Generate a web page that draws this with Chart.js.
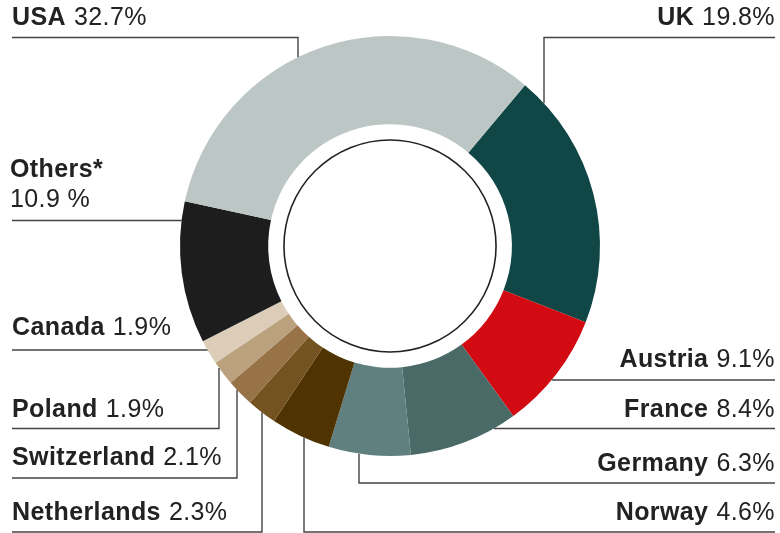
<!DOCTYPE html>
<html>
<head>
<meta charset="utf-8">
<script src="https://cdn.jsdelivr.net/npm/chart.js@4/dist/chart.umd.min.js"></script>
<style>
  html, body { margin: 0; padding: 0; background: #fff; }
  #wrap { width: 780px; height: 533px; position: relative; }
</style>
</head>
<body>
<div id="wrap"><canvas id="chartDonut"></canvas></div>
<script>
// data, clockwise starting at UK
var countries = ['UK', 'Austria', 'France', 'Germany', 'Norway', 'Netherlands', 'Switzerland', 'Poland', 'Canada', 'Others*', 'USA'];
var shares = [19.8, 9.1, 8.4, 6.3, 4.6, 2.3, 2.1, 1.9, 1.9, 10.9, 32.7];
var colors = ['#104645', '#d20a11', '#4a6a68', '#608080', '#4f3300', '#73531f', '#977347', '#bba17d', '#dccdb8', '#1d1d1d', '#bcc6c5'];

// label placement: text baseline, leader line (y = horizontal run, x = vertical drop to ring)
var labelLayout = [
  { side: 'right', base: 25,  lineY: 37.5,  dropX: 544 },  // UK
  { side: 'right', base: 367, lineY: 380 },                // Austria
  { side: 'right', base: 417, lineY: 428.5 },              // France
  { side: 'right', base: 471, lineY: 483,   dropX: 359 },  // Germany
  { side: 'right', base: 520, lineY: 532,   dropX: 304 },  // Norway
  { side: 'left',  base: 520, lineY: 532,   dropX: 262 },  // Netherlands
  { side: 'left',  base: 465, lineY: 478,   dropX: 237 },  // Switzerland
  { side: 'left',  base: 417, lineY: 428.5, dropX: 219 },  // Poland
  { side: 'left',  base: 335, lineY: 350 },                // Canada
  { side: 'left',  base: 177, lineY: 220.5, twoLines: true }, // Others
  { side: 'left',  base: 25,  lineY: 37.5,  dropX: 298 }   // USA
];

var FONT = '"Liberation Sans", Arial, sans-serif';

var labelPlugin = {
  id: 'leaderLabels',
  afterDraw: function(chart) {
    var ctx = chart.ctx;
    var arc = chart.getDatasetMeta(0).data[0];
    var cx = arc.x, cy = arc.y, R = arc.outerRadius;
    var leftX = 12, rightX = 775;

    ctx.save();
    // thin ring inside the hole
    ctx.beginPath();
    ctx.arc(cx, cy, R * 0.505, 0, Math.PI * 2);
    ctx.lineWidth = 1.6;
    ctx.strokeStyle = '#222';
    ctx.stroke();

    ctx.strokeStyle = '#444';
    ctx.lineWidth = 1.4;
    ctx.fillStyle = '#222';
    ctx.textBaseline = 'alphabetic';
    ctx.letterSpacing = '0.4px';

    for (var i = 0; i < countries.length; i++) {
      var L = labelLayout[i];
      var pct = shares[i].toFixed(1) + (L.twoLines ? ' %' : '%');
      var name = countries[i];

      // leader line
      ctx.beginPath();
      var startX = L.side === 'left' ? leftX : rightX;
      ctx.moveTo(startX, L.lineY);
      if (L.dropX !== undefined) {
        var dx = L.dropX - cx;
        var dy = Math.sqrt(Math.max(R * R - dx * dx, 0));
        var endY = L.lineY < cy ? cy - dy : cy + dy;
        ctx.lineTo(L.dropX, L.lineY);
        ctx.lineTo(L.dropX, endY);
      } else {
        var ddy = L.lineY - cy;
        var ddx = Math.sqrt(Math.max(R * R - ddy * ddy, 0));
        ctx.lineTo(L.side === 'left' ? cx - ddx : cx + ddx, L.lineY);
      }
      ctx.stroke();

      // text
      ctx.font = 'bold 25px ' + FONT;
      var wName = ctx.measureText(name).width;
      ctx.font = '25px ' + FONT;
      var wPct = ctx.measureText(pct).width;
      var gap = 8;
      if (L.twoLines) {
        ctx.font = 'bold 25px ' + FONT;
        ctx.fillText(name, leftX - 2, L.base);
        ctx.font = '25px ' + FONT;
        ctx.fillText(pct, leftX - 2, L.base + 30);
      } else if (L.side === 'left') {
        ctx.font = 'bold 25px ' + FONT;
        ctx.fillText(name, leftX, L.base);
        ctx.font = '25px ' + FONT;
        ctx.fillText(pct, leftX + wName + gap, L.base);
      } else {
        var x0 = rightX - wPct;
        ctx.font = '25px ' + FONT;
        ctx.fillText(pct, x0, L.base);
        ctx.font = 'bold 25px ' + FONT;
        ctx.fillText(name, x0 - gap - wName, L.base);
      }
    }
    ctx.restore();
  }
};

var ctx = document.getElementById('chartDonut');

var donut = new Chart(ctx, {
  type: 'doughnut',
  data: {
    labels: countries,
    datasets: [{
      data: shares,
      backgroundColor: colors,
      borderWidth: 0,
      hoverOffset: 0
    }]
  },
  options: {
    responsive: true,
    maintainAspectRatio: false,
    animation: false,
    rotation: 40,
    cutout: '58%',
    layout: { padding: { top: 36, bottom: 77, left: 180, right: 180 } },
    plugins: {
      legend: { display: false },
      tooltip: { enabled: false }
    }
  },
  plugins: [labelPlugin]
});
</script>
</body>
</html>
